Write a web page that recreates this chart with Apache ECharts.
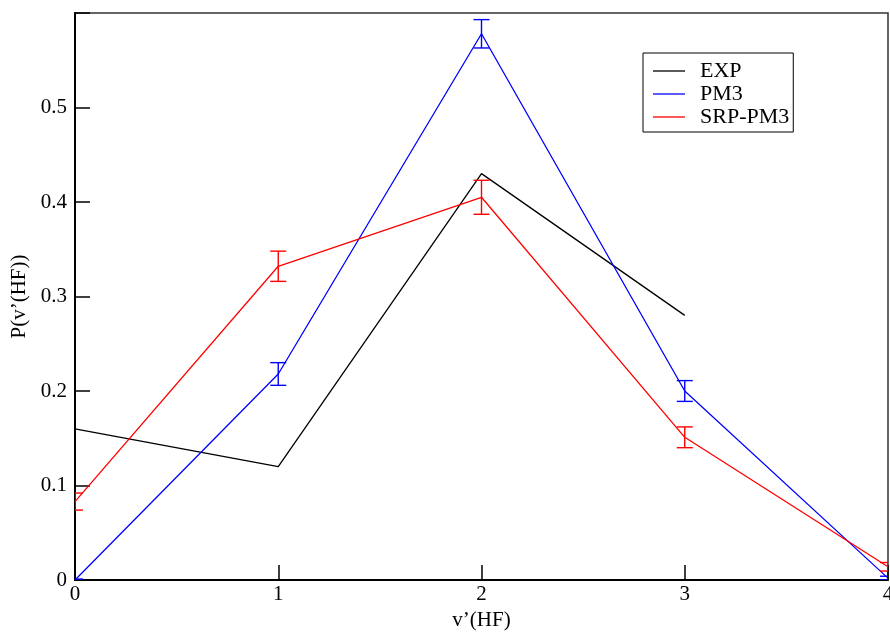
<!DOCTYPE html>
<html>
<head>
<meta charset="utf-8">
<script src="https://cdn.jsdelivr.net/npm/echarts@6/dist/echarts.min.js"></script>
<style>
  html, body { margin: 0; padding: 0; background: #fff; }
  #chart { width: 890px; height: 632px; }
</style>
</head>
<body>
<div id="chart"></div>
<script>
// Vibrational state populations of HF
const levels = [0, 1, 2, 3, 4];
const expValues = [0.16, 0.12, 0.43, 0.28];
const pm3Values = [0.0, 0.218, 0.578, 0.200, 0.002];
const pm3Errors = [0.001, 0.012, 0.015, 0.011, 0.002];
const srpValues = [0.083, 0.332, 0.405, 0.151, 0.014];
const srpErrors = [0.009, 0.016, 0.018, 0.011, 0.0045];
const yTicks = [0, 0.1, 0.2, 0.3, 0.4, 0.5];

const FONT = '"Liberation Serif", "DejaVu Serif", serif';

function pairs(vals) {
  return vals.map((v, i) => [levels[i], v]);
}
function errTriples(vals, errs) {
  return vals.map((v, i) => [levels[i], v - errs[i], v + errs[i]]);
}

function errorBarSeries(name, color, vals, errs) {
  return {
    name: name + ' err',
    type: 'custom',
    data: errTriples(vals, errs),
    clip: true,
    z: 3,
    renderItem: function (params, api) {
      const x = api.value(0);
      const lo = api.coord([x, api.value(1)]);
      const hi = api.coord([x, api.value(2)]);
      const half = 8;
      const style = { stroke: color, lineWidth: 1.4 };
      return {
        type: 'group',
        children: [
          { type: 'line', shape: { x1: lo[0], y1: lo[1], x2: hi[0], y2: hi[1] }, style: style },
          { type: 'line', shape: { x1: lo[0] - half, y1: lo[1], x2: lo[0] + half, y2: lo[1] }, style: style },
          { type: 'line', shape: { x1: hi[0] - half, y1: hi[1], x2: hi[0] + half, y2: hi[1] }, style: style }
        ]
      };
    }
  };
}

function lineSeries(name, color, vals) {
  return {
    name: name,
    type: 'line',
    data: pairs(vals),
    showSymbol: false,
    symbol: 'none',
    lineStyle: { color: color, width: 1.3 },
    itemStyle: { color: color },
    z: 2,
    animation: false
  };
}

const chart = echarts.init(document.getElementById('chart'));
chart.setOption({
  animation: false,
  backgroundColor: '#fff',
  grid: {
    left: 75, right: 2, top: 13, bottom: 52,
    outerBoundsMode: 'none',
    containLabel: false,
    show: true, borderColor: '#333', borderWidth: 1.5, backgroundColor: 'transparent'
  },
  legend: {
    left: 643, top: 53,
    orient: 'vertical',
    data: [
      { name: 'EXP', icon: 'rect' },
      { name: 'PM3', icon: 'rect' },
      { name: 'SRP-PM3', icon: 'rect' }
    ],
    itemWidth: 32, itemHeight: 1.3,
    itemGap: 1,
    padding: [7, 4, 4, 10],
    borderColor: '#000', borderWidth: 1, borderRadius: 0,
    textStyle: { fontFamily: FONT, fontSize: 22, color: '#000', lineHeight: 22, padding: [0, 0, 0, 10] }
  },
  xAxis: {
    type: 'value', min: 0, max: 4, interval: 1,
    name: 'v\u2019(HF)', nameLocation: 'middle', nameGap: 29,
    nameTextStyle: { fontFamily: FONT, fontSize: 21, color: '#000' },
    axisLine: { onZero: false, lineStyle: { color: '#000', width: 2 } },
    axisTick: { inside: true, length: 15, lineStyle: { color: '#000', width: 1.5 } },
    axisLabel: { fontFamily: FONT, fontSize: 21, color: '#000', margin: 4 },
    splitLine: { show: false }
  },
  yAxis: {
    type: 'value', min: 0, max: 0.6, interval: 0.1,
    name: 'P(v\u2019(HF))', nameLocation: 'middle', nameGap: 42,
    nameTextStyle: { fontFamily: FONT, fontSize: 21, color: '#000' },
    axisLine: { onZero: false, lineStyle: { color: '#000', width: 2 } },
    axisTick: { inside: true, length: 15, lineStyle: { color: '#000', width: 1.5 } },
    axisLabel: {
      fontFamily: FONT, fontSize: 21, color: '#000', margin: 8,
      formatter: function (v) {
        const hit = yTicks.find(t => Math.abs(t - v) < 1e-9);
        return hit === undefined ? '' : String(hit);
      }
    },
    splitLine: { show: false }
  },
  series: [
    lineSeries('EXP', '#000000', expValues),
    lineSeries('PM3', '#0000ff', pm3Values),
    lineSeries('SRP-PM3', '#ff0000', srpValues),
    errorBarSeries('PM3', '#0000ff', pm3Values, pm3Errors),
    errorBarSeries('SRP-PM3', '#ff0000', srpValues, srpErrors)
  ]
});
</script>
</body>
</html>
